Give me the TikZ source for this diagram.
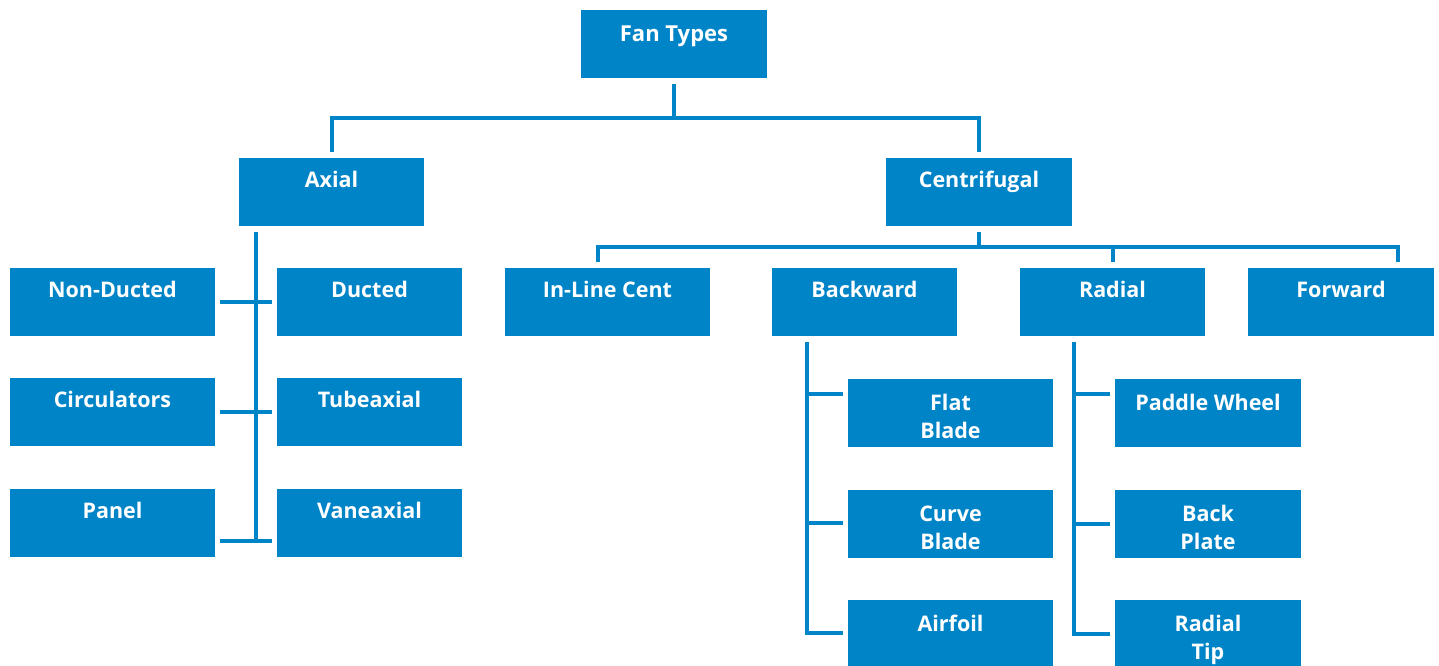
\documentclass[tikz,border=0pt]{standalone}
\usepackage{fontspec}
\setmainfont{Open Sans}
\usetikzlibrary{calc}
\definecolor{fanblue}{RGB}{0,132,200}
\newcommand\lblfont{\fontsize{21.5}{28.5}\selectfont\bfseries}
\newcommand\bigfont{\fontsize{22}{28}\selectfont\bfseries}
\tikzset{
  box/.style={fill=fanblue, draw=none, inner sep=0pt, minimum height=68pt, minimum width=#1},
  box/.default=185pt,
  lbl/.style={text=white, font=\lblfont, align=center, anchor=base, inner sep=0pt},
  conn/.style={draw=fanblue, line width=4pt},
}
\begin{document}
\begin{tikzpicture}[x=1pt,y=-1pt]
\useasboundingbox (0,0) rectangle (1439,666);
% boxes
\node[box=186pt] (fan) at (674,44) {};
\node[box] (axial) at (331.5,192) {};
\node[box=186pt] (centri) at (979,192) {};
\node[box=205pt] (nonducted) at (112.5,302) {};
\node[box] (ducted) at (369.5,302) {};
\node[box=205pt] (circ) at (112.5,412) {};
\node[box] (tube) at (369.5,412) {};
\node[box=205pt] (panel) at (112.5,523) {};
\node[box] (vane) at (369.5,523) {};
\node[box=205pt] (inline) at (607.5,302) {};
\node[box] (backward) at (864.5,302) {};
\node[box] (radial) at (1112.5,302) {};
\node[box=186pt] (forward) at (1341,302) {};
\node[box=205pt] (flat) at (950.5,413) {};
\node[box=205pt] (curve) at (950.5,524) {};
\node[box=205pt] (airfoil) at (950.5,634) {};
\node[box=186pt] (paddle) at (1208,413) {};
\node[box=186pt] (backplate) at (1208,524) {};
\node[box=186pt] (radtip) at (1208,634) {};
% labels
\node[lbl, font=\bigfont] (t-fan) at ($(fan.north)+(0,32)$) {Fan Types};
\node[lbl] (t-axial) at ($(axial.north)+(0,30)$) {Axial};
\node[lbl] (t-centri) at ($(centri.north)+(0,30)$) {Centrifugal};
\node[lbl] (t-nonducted) at ($(nonducted.north)+(0,30)$) {Non-Ducted};
\node[lbl] (t-ducted) at ($(ducted.north)+(0,30)$) {Ducted};
\node[lbl] (t-circ) at ($(circ.north)+(0,30)$) {Circulators};
\node[lbl] (t-tube) at ($(tube.north)+(0,30)$) {Tubeaxial};
\node[lbl] (t-panel) at ($(panel.north)+(0,30)$) {Panel};
\node[lbl] (t-vane) at ($(vane.north)+(0,30)$) {Vaneaxial};
\node[lbl] (t-inline) at ($(inline.north)+(0,30)$) {In-Line Cent};
\node[lbl] (t-backward) at ($(backward.north)+(0,30)$) {Backward};
\node[lbl] (t-radial) at ($(radial.north)+(0,30)$) {Radial};
\node[lbl] (t-forward) at ($(forward.north)+(0,30)$) {Forward};
\node[lbl] (t-flat) at ($(flat.north)+(0,60)$) {Flat\\Blade};
\node[lbl] (t-curve) at ($(curve.north)+(0,60)$) {Curve\\Blade};
\node[lbl] (t-airfoil) at ($(airfoil.north)+(0,31.5)$) {Airfoil};
\node[lbl] (t-paddle) at ($(paddle.north)+(0,31.5)$) {Paddle Wheel};
\node[lbl] (t-backplate) at ($(backplate.north)+(0,60)$) {Back\\Plate};
\node[lbl] (t-radtip) at ($(radtip.north)+(0,60)$) {Radial\\Tip};
% top level
\draw[conn] ($(fan.south)+(0,6)$) -- ($(fan.south)+(0,40)$);
\draw[conn] ($(axial.north)+(0,-6)$) |- ($(centri.north)+(0,-40)$) -- ($(centri.north)+(0,-6)$);
% axial
\coordinate (ax) at ($(axial.south west)+(17,6)$);
\coordinate (a3) at ($(panel.east)+(5,18)$);
\draw[conn] (ax) -- (ax |- a3);
\draw[conn] ($(nonducted.east)+(5,0)$) -- ($(ducted.west)+(-5,0)$);
\draw[conn] ($(circ.east)+(5,0)$) -- ($(tube.west)+(-5,0)$);
\draw[conn] (a3) -- ($(vane.west)+(-5,18)$);
% centrifugal
\draw[conn] ($(centri.south)+(0,6)$) -- ($(centri.south)+(0,21)$);
\draw[conn] ($(inline.north)+(-10,-6)$) |- ($(forward.north)+(57,-21)$) -- ($(forward.north)+(57,-6)$);
\draw[conn] ($(radial.north)+(0,-21)$) -- ($(radial.north)+(0,-6)$);
% backward
\coordinate (bw) at ($(backward.south west)+(35,6)$);
\coordinate (b1) at ($(flat.west)+(-5,-19)$);
\coordinate (b2) at ($(curve.west)+(-5,-1)$);
\draw[conn] (bw) |- ($(airfoil.west)+(-5,-1)$);
\draw[conn] (b1) -- (b1 -| bw);
\draw[conn] (b2) -- (b2 -| bw);
% radial
\coordinate (rd) at ($(radial.south west)+(54,6)$);
\coordinate (r1) at ($(paddle.west)+(-5,-19)$);
\coordinate (r2) at ($(backplate.west)+(-5,0)$);
\draw[conn] (rd) |- ($(radtip.west)+(-5,0)$);
\draw[conn] (r1) -- (r1 -| rd);
\draw[conn] (r2) -- (r2 -| rd);
\end{tikzpicture}
\end{document}
